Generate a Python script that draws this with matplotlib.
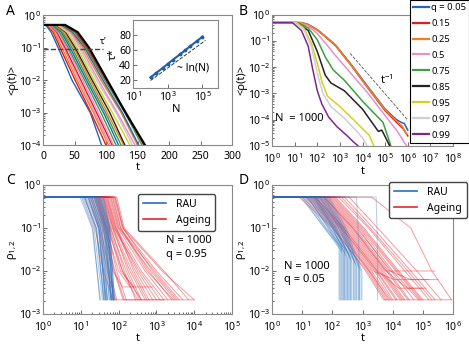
import numpy as np
import matplotlib.pyplot as plt

plt.rcParams['font.family'] = ['Noto Sans', 'DejaVu Sans']
plt.rcParams['mathtext.default'] = 'regular'
plt.rcParams['axes.edgecolor'] = '#888888'
plt.rcParams['xtick.color'] = '#555555'
plt.rcParams['ytick.color'] = '#555555'
plt.rcParams['xtick.labelcolor'] = 'black'
plt.rcParams['ytick.labelcolor'] = 'black'

# ---------- panel A: <rho(t)> for increasing N (t where each level is reached)
A_colors = ['#2166b8', '#e41a1c', '#f08020', '#e890c8', '#e41a1c', '#e890c8',
            '#3aa040', '#2166b8', '#3aa040', '#f08020', '#222222', '#d8d020',
            '#c8c8c8', '#e890c8', '#f08020', '#2166b8', '#3aa040', '#e41a1c', '#000000']
A_tflat = [4, 6, 8, 9, 11, 12, 14, 16, 17, 19, 21, 22, 24, 26, 28, 29, 31, 33, 35]
A_t03 = [13, 16, 18, 20, 22, 24, 26, 29, 31, 33, 36, 38, 40, 43, 45, 47, 50, 52, 55]
A_t01 = [24, 27, 30, 33, 35, 38, 40, 43, 46, 49, 51, 54, 57, 60, 63, 66, 68, 70, 73]
A_t2 = [46, 51, 54, 57, 60, 63, 66, 69, 72, 75, 78, 81, 85, 88, 92, 95, 98, 100, 102]
A_t3 = [75, 76, 80, 82, 85, 88, 92, 96, 99, 102, 106, 110, 116, 118, 124, 126, 130, 132, 131]
A_t4 = [93, 100, 104, 107, 110, 112, 116, 120, 124, 128, 130, 138, 142, 146, 150, 152, 157, 160, 162]
A_levels = [0.5, 0.5, 0.3, 0.1, 1e-2, 1e-3, 1e-4]

# inset: tau* vs N
N_vals = [1e2, 2e2, 5e2, 1e3, 2e3, 5e3, 1e4, 2e4, 5e4, 1e5]
tau_vals = [24, 29.5, 36.5, 42, 47.5, 54.5, 60, 65.5, 72.5, 78]
N_ref = [1e2, 1.5e5]
tau_ref = [20, 73]

# ---------- panel B: <rho(t)> for several q, N = 1000 (log10 t, log10 rho)
q_labels = ['q = 0.05', '0.15', '0.25', '0.5', '0.75', '0.85', '0.95', '0.97', '0.99']
B_colors = ['#2166b8', '#e41a1c', '#f08020', '#e890c8', '#3aa040', '#222222',
            '#d8d020', '#d0d0d0', '#7b2a8c']
B_logt = [
    [0, 1.3, 1.6, 2.0, 2.4, 2.8, 3.5, 4.2, 5.0, 5.5, 5.7, 5.85, 6.0],
    [0, 1.3, 1.6, 2.0, 2.4, 2.8, 3.5, 4.2, 5.0, 5.5, 5.8, 6.0],
    [0, 1.3, 1.6, 2.0, 2.4, 2.8, 3.5, 4.2, 5.0, 5.5, 5.75, 5.95],
    [0, 1.2, 1.6, 2.0, 2.4, 2.8, 3.5, 4.2, 5.0, 5.5, 5.95],
    [0, 1.15, 1.6, 2.0, 2.35, 2.7, 3.2, 4.0, 4.9, 5.1, 5.25],
    [0, 1.1, 1.6, 2.0, 2.35, 2.6, 3.2, 4.0, 4.7, 4.85, 5.0, 5.2],
    [0, 1.1, 1.4, 1.75, 2.05, 2.2, 2.45, 3.0, 3.6, 4.0, 4.3, 4.5],
    [0, 1.0, 1.4, 1.75, 2.05, 2.25, 2.6, 3.2, 3.7, 4.0, 4.2],
    [0, 0.9, 1.3, 1.6, 1.78, 2.0, 2.2, 2.5, 2.87, 3.3, 3.6, 3.8],
]
B_logrho = [
    [-0.3, -0.3, -0.37, -0.57, -0.85, -1.15, -1.9, -2.7, -3.6, -4.0, -4.1, -4.15, -4.4],
    [-0.3, -0.3, -0.38, -0.58, -0.87, -1.17, -1.93, -2.75, -3.66, -4.1, -4.35, -4.62],
    [-0.3, -0.3, -0.38, -0.58, -0.86, -1.16, -1.92, -2.73, -3.63, -4.05, -4.25, -4.55],
    [-0.3, -0.3, -0.42, -0.72, -1.12, -1.55, -2.25, -2.95, -3.85, -4.4, -5.0],
    [-0.3, -0.3, -0.5, -0.95, -1.6, -2.1, -2.5, -3.3, -4.1, -4.6, -5.0],
    [-0.3, -0.3, -0.6, -1.4, -2.3, -2.6, -2.9, -3.6, -4.45, -4.4, -4.65, -5.0],
    [-0.3, -0.3, -0.5, -1.1, -2.0, -2.55, -3.1, -3.5, -4.0, -4.35, -4.6, -5.0],
    [-0.3, -0.3, -0.55, -1.25, -2.4, -3.0, -3.5, -3.95, -4.4, -4.7, -5.0],
    [-0.3, -0.3, -0.6, -1.2, -2.0, -2.9, -3.4, -3.9, -4.27, -4.6, -4.85, -5.0],
]
tpow_logt = [3.45, 5.97]
tpow_logrho = [-1.47, -3.99]

# ---------- panels C, D: single runs rho_{1,2}(t), log10 values
# C, q = 0.95 -- RAU: leave plateau, reach 0.1, reach floor
C_rau_t0 = [1.02, 1.21, 1.35, 0.98, 1.47, 1.12, 1.30, 1.55, 1.18, 1.40, 1.08, 1.26, 1.50, 1.33, 1.15,
            1.44, 1.60, 1.05, 1.38, 1.23, 1.52, 1.29, 1.10, 1.42, 1.36, 1.58, 1.19, 1.48, 1.27, 1.45]
C_rau_t1 = [1.32, 1.49, 1.60, 1.30, 1.69, 1.42, 1.57, 1.75, 1.47, 1.64, 1.41, 1.52, 1.72, 1.60, 1.46,
            1.67, 1.77, 1.35, 1.63, 1.51, 1.73, 1.56, 1.40, 1.66, 1.62, 1.76, 1.48, 1.71, 1.54, 1.69]
C_rau_tf = [1.50, 1.64, 1.80, 1.52, 1.85, 1.61, 1.71, 1.87, 1.67, 1.81, 1.62, 1.70, 1.86, 1.76, 1.65,
            1.82, 1.89, 1.57, 1.80, 1.67, 1.86, 1.75, 1.60, 1.81, 1.79, 1.89, 1.66, 1.85, 1.70, 1.86]
# C ageing: leave plateau, reach 0.1, reach 0.01, reach floor, floor level, end
C_age_t0 = [1.10, 1.45, 1.62, 1.30, 1.80, 1.52, 1.70, 1.25, 1.92, 1.58, 1.40, 1.85, 1.66, 1.35, 1.75,
            1.55, 1.88, 1.48, 1.20, 1.68, 1.95, 1.60, 1.78, 1.42, 1.72, 1.50, 1.83, 1.64, 1.38, 1.90]
C_age_t1 = [1.38, 1.70, 1.86, 1.58, 2.02, 1.78, 1.93, 1.52, 2.12, 1.83, 1.66, 2.06, 1.90, 1.62, 1.98,
            1.80, 2.10, 1.74, 1.48, 1.92, 2.15, 1.85, 2.00, 1.68, 1.95, 1.76, 2.05, 1.88, 1.65, 2.12]
C_age_t2 = [1.60, 2.10, 2.35, 1.85, 2.95, 2.20, 2.60, 1.75, 3.15, 2.30, 2.00, 2.80, 2.45, 1.90, 2.70,
            2.15, 3.00, 2.05, 1.70, 2.50, 3.20, 2.25, 2.85, 1.95, 2.40, 2.10, 2.75, 2.55, 1.88, 2.90]
C_age_tf = [1.85, 2.60, 2.75, 2.10, 3.60, 2.55, 3.20, 1.95, 4.00, 2.70, 2.30, 3.40, 2.90, 2.15, 3.30,
            2.45, 3.70, 2.40, 1.92, 3.00, 3.85, 2.60, 3.50, 2.20, 2.80, 2.50, 3.45, 3.10, 2.12, 3.55]
C_age_floor = [-2.67, -2.67, -2.67, -2.37, -2.67, -2.67, -2.67, -2.67, -2.67, -2.67, -2.37, -2.67, -2.67, -2.67, -2.67,
               -2.67, -2.67, -2.37, -2.67, -2.67, -2.67, -2.67, -2.67, -2.67, -2.67, -2.67, -2.67, -2.67, -2.67, -2.67]
C_age_tend = [4.00, 2.60, 2.75, 2.90, 3.60, 2.55, 3.20, 1.95, 4.00, 2.70, 2.30, 3.40, 2.90, 3.20, 3.30,
              2.45, 3.70, 2.40, 1.92, 3.00, 3.85, 2.60, 3.50, 2.20, 2.80, 2.50, 3.45, 3.10, 2.12, 3.55]

# D, q = 0.05 -- RAU: leave plateau, reach 0.1, start of final drop (t, level)
D_rau_t0 = [1.20, 1.55, 0.95, 1.75, 1.35, 1.10, 1.62, 1.45, 1.85, 1.28, 1.50, 1.05, 1.70, 1.40, 1.58,
            1.15, 1.80, 1.32, 1.66, 1.48, 1.00, 1.38, 1.72, 1.25, 1.60, 1.90, 1.42, 1.18, 3.45, 2.80]
D_rau_t1 = [1.85, 2.15, 1.75, 2.35, 2.00, 1.80, 2.25, 2.05, 2.40, 1.95, 2.10, 1.78, 2.30, 2.02, 2.20,
            1.90, 2.38, 2.00, 2.28, 2.12, 1.72, 2.05, 2.32, 1.92, 2.22, 2.45, 2.08, 1.88, 3.48, 2.85]
D_rau_tf = [2.35, 2.65, 2.25, 2.85, 2.50, 2.30, 2.75, 2.55, 2.95, 2.40, 2.60, 2.28, 2.80, 2.48, 2.70,
            2.38, 2.90, 2.45, 2.78, 2.62, 2.22, 2.52, 2.88, 2.42, 2.72, 2.98, 2.58, 2.35, 3.50, 2.88]
D_rau_lf = [-1.6, -1.8, -1.5, -1.9, -1.7, -1.4, -1.8, -1.6, -2.0, -1.5, -1.7, -1.45, -1.9, -1.6, -1.75,
            -1.55, -1.95, -1.65, -1.85, -1.7, -1.4, -1.6, -1.9, -1.5, -1.8, -2.0, -1.7, -1.55, -1.8, -1.5]
# D ageing
D_age_t0 = [1.00, 1.40, 1.75, 1.20, 2.00, 1.55, 0.90, 1.85, 1.30, 2.20, 1.65, 1.10, 1.95, 1.45, 2.40,
            1.70, 1.25, 2.10, 1.60, 1.35, 1.90, 2.55, 1.50, 1.80, 1.15, 2.05, 1.72, 1.42, 2.30, 3.30]
D_age_t1 = [2.05, 2.35, 2.70, 2.20, 2.95, 2.50, 2.00, 2.80, 2.30, 3.20, 2.60, 2.10, 2.90, 2.40, 3.35,
            2.65, 2.25, 3.05, 2.55, 2.30, 2.85, 3.50, 2.45, 2.75, 2.15, 3.00, 2.68, 2.38, 3.25, 4.60]
D_age_t2 = [3.10, 3.40, 3.80, 3.25, 4.10, 3.60, 3.15, 3.95, 3.35, 4.40, 3.70, 3.20, 4.00, 3.50, 4.60,
            3.75, 3.30, 4.20, 3.65, 3.45, 3.90, 4.80, 3.55, 3.85, 3.22, 4.15, 3.78, 3.48, 4.50, 5.30]
D_age_tf = [3.70, 4.00, 4.50, 3.85, 4.90, 4.30, 3.75, 4.70, 4.05, 5.20, 4.40, 3.80, 4.85, 4.20, 5.40,
            4.45, 3.95, 5.00, 4.35, 4.10, 4.60, 5.60, 4.25, 4.55, 3.90, 4.95, 4.48, 4.15, 5.30, 5.95]
D_age_floor = [-2.67, -2.67, -2.67, -2.67, -2.67, -2.67, -2.67, -2.67, -2.2, -2.67, -2.67, -2.67, -2.67, -2.4, -2.67,
               -2.0, -2.67, -2.67, -2.67, -2.67, -2.2, -2.67, -2.67, -2.67, -2.67, -2.67, -2.4, -2.67, -2.67, -2.67]
D_age_tend = [5.95, 4.00, 4.50, 3.85, 4.90, 4.30, 3.75, 4.70, 5.20, 5.20, 4.40, 3.80, 4.85, 5.00, 5.40,
              5.40, 3.95, 5.00, 4.35, 4.10, 5.50, 5.60, 4.25, 4.55, 3.90, 4.95, 5.10, 4.15, 5.30, 5.95]

RAU_COL = '#2a6fba'
AGE_COL = '#e42530'
PLAT = -0.28
FS = 7.5


def style(ax):
    ax.tick_params(which='both', direction='in', labelsize=FS, width=0.6)
    ax.tick_params(axis='y', pad=1.5)
    ax.tick_params(axis='x', pad=4.5)
    ax.tick_params(which='major', length=3)
    ax.tick_params(which='minor', length=1.5)
    for s in ax.spines.values():
        s.set_linewidth(0.8)


def decades(ax, axis, lo, hi):
    ticks = [10.0 ** k for k in range(lo, hi + 1)]
    if axis == 'x':
        ax.set_xticks(ticks)
    else:
        ax.set_yticks(ticks)


fig = plt.figure(figsize=(4.69, 3.44), dpi=100)

# ----- A
axA = fig.add_axes([0.0917, 0.578, 0.403, 0.378])
for i in range(len(A_t01)):
    t = [0, A_tflat[i], A_t03[i], A_t01[i], A_t2[i], A_t3[i], A_t4[i]]
    lw = 1.6 if i == len(A_t01) - 1 else 1.0
    axA.plot(t, A_levels, color=A_colors[i], lw=lw)
axA.plot([0, 95], [0.09, 0.09], ls='--', color='#444444', lw=1.0)
axA.text(90, 0.13, "τ'", fontsize=7)
axA.set_yscale('log')
axA.set_xlim(0, 300)
axA.set_ylim(1e-4, 1)
decades(axA, 'y', -4, 0)
axA.set_xticks([0, 50, 100, 150, 200, 250, 300])
axA.set_xlabel('t', fontsize=8, labelpad=0)
axA.set_ylabel('<ρ(t)>', fontsize=8, labelpad=0)
style(axA)

# inset
axI = fig.add_axes([0.284, 0.744, 0.181, 0.198])
axI.plot(N_ref, tau_ref, ls='--', color='#333333', lw=0.7)
axI.plot(N_vals, tau_vals, color='#1f5fa8', lw=1.5, marker='o', ms=1.8)
axI.set_xscale('log')
axI.set_xlim(10, 10 ** 5.9)
axI.set_ylim(10, 100)
axI.set_xticks([1e1, 1e3, 1e5])
axI.set_yticks([20, 40, 60, 80])
axI.text(10 ** 3.55, 36, '~ ln(N)', fontsize=7.5, va='center')
axI.set_xlabel('N', fontsize=8, labelpad=0)
axI.set_ylabel('τ*', fontsize=8, labelpad=0)
style(axI)
axI.tick_params(axis='x', pad=1.5)
axI.tick_params(which='minor', length=0)

# ----- B
axB = fig.add_axes([0.580, 0.576, 0.386, 0.381])
handles = []
for i in range(len(q_labels)):
    h, = axB.plot(10 ** np.array(B_logt[i]), 10 ** np.array(B_logrho[i]),
                  color=B_colors[i], lw=1.1)
    handles.append(h)
axB.plot(10 ** np.array(tpow_logt), 10 ** np.array(tpow_logrho), ls='--', color='#555555', lw=0.6)
axB.text(10 ** 4.75, 10 ** -2.5, '$t^{-1}$', fontsize=8, va='center')
axB.text(1.3, 10 ** -3.95, 'N  = 1000', fontsize=8, va='center')
axB.set_xscale('log')
axB.set_yscale('log')
axB.set_xlim(1, 1e8)
axB.set_ylim(1e-5, 1)
decades(axB, 'x', 0, 8)
decades(axB, 'y', -5, 0)
axB.set_xlabel('t', fontsize=8, labelpad=0)
axB.set_ylabel('<ρ(t)>', fontsize=8, labelpad=0)
style(axB)
leg = fig.legend(handles, q_labels, loc='upper right', bbox_to_anchor=(1.0, 1.0),
                 fontsize=6.8, handlelength=1.7, handletextpad=0.2, labelspacing=0.74,
                 borderpad=0.3, borderaxespad=0, fancybox=False, framealpha=1)
leg.get_frame().set_edgecolor('black')
leg.get_frame().set_linewidth(0.8)
for h in leg.legend_handles:
    h.set_linewidth(1.6)

# ----- C
axC = fig.add_axes([0.0917, 0.0872, 0.403, 0.375])
for i in range(len(C_age_t0)):
    lt = [0, C_age_t0[i], C_age_t1[i], C_age_t2[i], C_age_tf[i], C_age_tend[i]]
    lr = [PLAT, PLAT, -1.0, -2.0, C_age_floor[i], C_age_floor[i]]
    axC.plot(10 ** np.array(lt), 10 ** np.array(lr), color=AGE_COL, lw=0.7, alpha=0.45)
for i in range(len(C_rau_t0)):
    lt = [0, C_rau_t0[i], C_rau_t1[i], C_rau_tf[i]]
    lr = [PLAT, PLAT, -1.0, -2.67]
    axC.plot(10 ** np.array(lt), 10 ** np.array(lr), color=RAU_COL, lw=0.7, alpha=0.4)
axC.set_xscale('log')
axC.set_yscale('log')
axC.set_xlim(1, 1e5)
axC.set_ylim(1e-3, 1)
decades(axC, 'x', 0, 5)
decades(axC, 'y', -3, 0)
axC.set_xlabel('t', fontsize=8, labelpad=-1)
axC.set_ylabel(r'$\rho_{1,2}$', fontsize=8, labelpad=0)
axC.text(10 ** 3.25, 10 ** -1.45, 'N = 1000\nq = 0.95', fontsize=8, va='center', linespacing=1.3)
style(axC)
lc = [plt.Line2D([], [], color=RAU_COL, lw=1.2), plt.Line2D([], [], color=AGE_COL, lw=1.2)]
legC = axC.legend(lc, ['RAU', 'Ageing'], loc='upper right', bbox_to_anchor=(0.94, 0.97),
                  fontsize=7.5, handlelength=2.2, handletextpad=1.0, borderpad=0.45, framealpha=1)
legC.get_frame().set_edgecolor('#444444')

# ----- D
axD = fig.add_axes([0.580, 0.0872, 0.386, 0.375])
for i in range(len(D_age_t0)):
    lt = [0, D_age_t0[i], D_age_t1[i], D_age_t2[i], D_age_tf[i], D_age_tend[i]]
    lr = [PLAT, PLAT, -1.0, -2.0, D_age_floor[i], D_age_floor[i]]
    axD.plot(10 ** np.array(lt), 10 ** np.array(lr), color=AGE_COL, lw=0.7, alpha=0.45)
for i in range(len(D_rau_t0)):
    lt = [0, D_rau_t0[i], D_rau_t1[i], D_rau_tf[i], D_rau_tf[i]]
    lr = [PLAT, PLAT, -1.0, D_rau_lf[i], -2.67]
    axD.plot(10 ** np.array(lt), 10 ** np.array(lr), color=RAU_COL, lw=0.7, alpha=0.35)
axD.set_xscale('log')
axD.set_yscale('log')
axD.set_xlim(1, 1e6)
axD.set_ylim(1e-3, 1)
decades(axD, 'x', 0, 6)
decades(axD, 'y', -3, 0)
axD.set_xlabel('t', fontsize=8, labelpad=-1)
axD.set_ylabel(r'$\rho_{1,2}$', fontsize=8, labelpad=0)
axD.text(10 ** 0.4, 10 ** -2.05, 'N = 1000\nq = 0.05', fontsize=8, va='center', linespacing=1.3)
style(axD)
legD = axD.legend(lc, ['RAU', 'Ageing'], loc='upper right', bbox_to_anchor=(1.105, 1.065),
                  fontsize=7.5, handlelength=2.2, handletextpad=1.0, borderpad=0.45, framealpha=1)
legD.get_frame().set_edgecolor('#444444')

# panel letters
for x, y, s in [(0.012, 0.955, 'A'), (0.508, 0.955, 'B'), (0.012, 0.465, 'C'), (0.508, 0.465, 'D')]:
    fig.text(x, y, s, fontsize=10)

fig.savefig('out.png', dpi=100)
